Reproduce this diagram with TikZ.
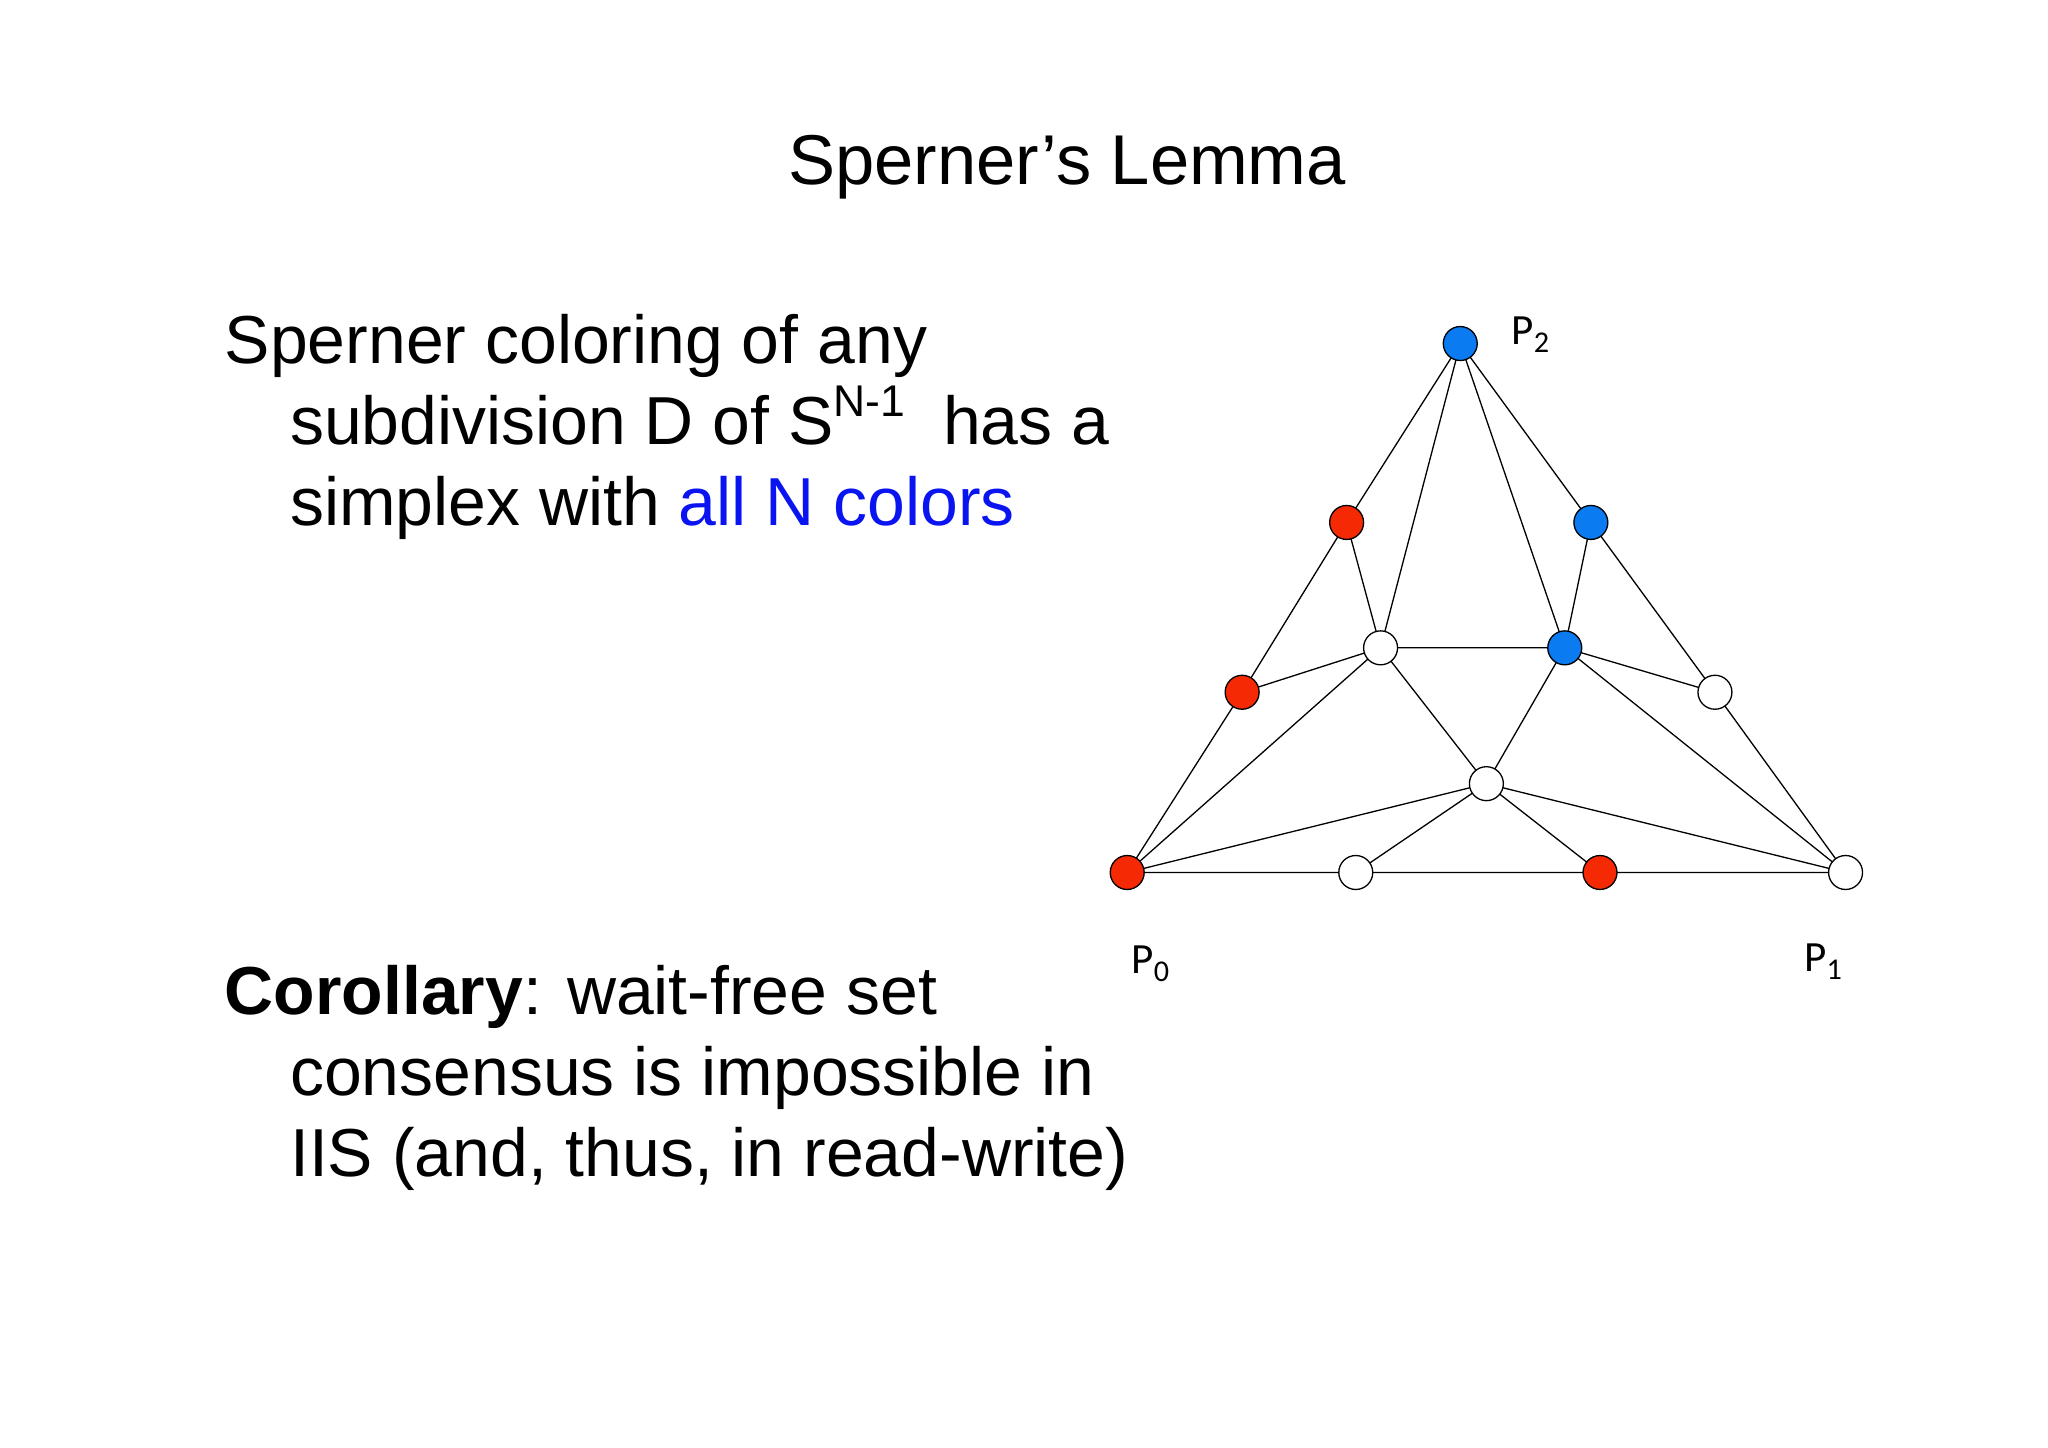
\documentclass[tikz,border=0pt]{standalone}
\usepackage{fontspec}
\setmainfont{Liberation Sans}
\newfontfamily\lab{Carlito}
\definecolor{vred}{HTML}{F52A05}
\definecolor{vblue}{HTML}{0A7BF0}
\definecolor{tblue}{HTML}{0A14F0}
\begin{document}
\begin{tikzpicture}[x=1pt,y=1pt,
  vtx/.style={circle,draw=black,line width=1pt,minimum size=26pt,inner sep=0pt},
  rv/.style={vtx,fill=vred}, bv/.style={vtx,fill=vblue}, wv/.style={vtx,fill=white},
  edge/.style={line width=1pt},
  body/.style={anchor=base west,font=\fontsize{52}{60}\selectfont,inner sep=0pt},
  plab/.style={font=\lab\fontsize{33}{38}\selectfont}]
\useasboundingbox (0,0) rectangle (1568,-1108);
\node[font=\fontsize{54}{62}\selectfont] (title) at (817,-128) {Sperner’s Lemma};
\node[body] (l1) at (172,-278) {Sperner coloring of any};
\node[body] (l2) at (222,-340) {subdivision D of S\raisebox{0.4em}{\fontsize{34}{38}\selectfont N-1}\ \ has a};
\node[body] (l3) at (222,-402) {simplex with \textcolor{tblue}{all N colors}};
\node[body] (c1) at (172,-777) {\textbf{Corollary}: wait-free set};
\node[body] (c2) at (222,-839) {consensus is impossible in};
\node[body] (c3) at (222,-901) {IIS (and, thus, in read-write)};
\coordinate (a) at (1118,-263);
\coordinate (b) at (1031,-400);
\coordinate (c) at (1218,-400);
\coordinate (d) at (1057,-496);
\coordinate (e) at (1198,-496);
\coordinate (f) at (951,-530);
\coordinate (g) at (1313,-530);
\coordinate (h) at (1138,-600);
\coordinate (p) at (863,-668);
\coordinate (i) at (1038,-668);
\coordinate (j) at (1225,-668);
\coordinate (q) at (1413,-668);
\draw[edge] (a)--(b)--(f)--(p)--(i)--(j)--(q)--(g)--(c)--(a);
\draw[edge] (a)--(d) (a)--(e) (b)--(d) (c)--(e) (d)--(e) (f)--(d) (e)--(g)
  (d)--(p) (d)--(h) (e)--(h) (e)--(q) (h)--(p) (h)--(q) (h)--(i) (h)--(j);
\node[bv] (na) at (a) {};
\node[rv] (nb) at (b) {};
\node[bv] (nc) at (c) {};
\node[wv] (nd) at (d) {};
\node[bv] (ne) at (e) {};
\node[rv] (nf) at (f) {};
\node[wv] (ng) at (g) {};
\node[wv] (nh) at (h) {};
\node[rv] (np) at (p) {};
\node[wv] (ni) at (i) {};
\node[rv] (nj) at (j) {};
\node[wv] (nq) at (q) {};
\node[plab] (P2) at (1172,-256) {P\textsubscript{2}};
\node[plab] (P0) at (881,-738) {P\textsubscript{0}};
\node[plab] (P1) at (1396,-736) {P\textsubscript{1}};
\end{tikzpicture}
\end{document}
